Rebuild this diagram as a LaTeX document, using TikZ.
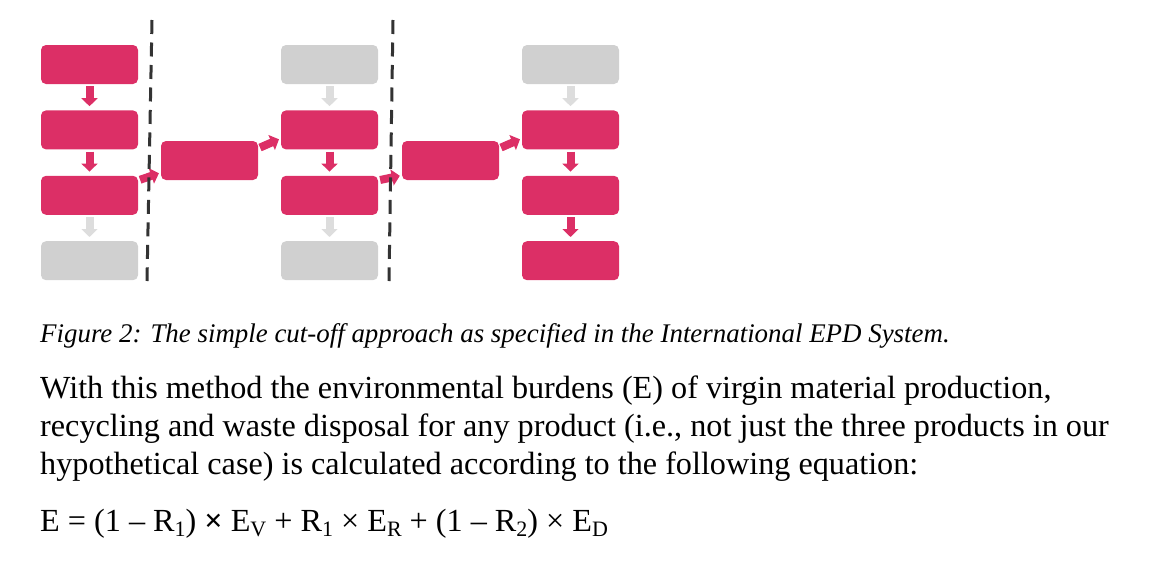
\documentclass[tikz,border=0pt]{standalone}
\usepackage{fontspec}
\setmainfont{Liberation Serif}
\usetikzlibrary{positioning,arrows.meta}

\definecolor{cerise}{RGB}{220,47,102}
\definecolor{boxgrey}{RGB}{208,208,208}
\definecolor{arrowgrey}{RGB}{221,221,221}
\definecolor{cutgrey}{RGB}{51,51,51}
\newcommand{\lowidx}[1]{\raisebox{-0.4ex}{\fontsize{22}{22}\selectfont #1}}

\begin{document}
\begin{tikzpicture}[x=1pt,y=1pt,
  stage/.style={rectangle,rounded corners=5pt,minimum width=97pt,minimum height=39pt,inner sep=0pt,fill=cerise},
  cutstage/.style={stage,fill=boxgrey},
  flow/.style={line width=8pt,cerise,-{Triangle[width=16pt,length=8pt]}},
  cutflow/.style={flow,arrowgrey},
  cutoff/.style={line width=3pt,cutgrey,dash pattern=on 14pt off 8.5pt},
  txt/.style={anchor=base west,inner sep=0pt}]

\useasboundingbox (0,0) rectangle (1167,-573);

%-------------------Product 1-----------------------%
\node[stage] (p1a) at (89.5,-64.5) {};
\node[stage,below=26pt of p1a] (p1b) {};
\node[stage,below=26pt of p1b] (p1c) {};
\node[cutstage,below=26pt of p1c] (p1d) {};
\draw[flow,shorten <=2pt,shorten >=4pt] (p1a) -- (p1b);
\draw[flow,shorten <=2pt,shorten >=4pt] (p1b) -- (p1c);
\draw[cutflow,shorten <=2pt,shorten >=4pt] (p1c) -- (p1d);
%----------------------------------------------------%

%-------------------Product 2-----------------------%
\node[cutstage] (p2a) at (329.5,-64.5) {};
\node[stage,below=26pt of p2a] (p2b) {};
\node[stage,below=26pt of p2b] (p2c) {};
\node[cutstage,below=26pt of p2c] (p2d) {};
\draw[cutflow,shorten <=2pt,shorten >=4pt] (p2a) -- (p2b);
\draw[flow,shorten <=2pt,shorten >=4pt] (p2b) -- (p2c);
\draw[cutflow,shorten <=2pt,shorten >=4pt] (p2c) -- (p2d);
%----------------------------------------------------%

%-------------------Product 3-----------------------%
\node[cutstage] (p3a) at (570.5,-64.5) {};
\node[stage,below=26pt of p3a] (p3b) {};
\node[stage,below=26pt of p3b] (p3c) {};
\node[stage,below=26pt of p3c] (p3d) {};
\draw[cutflow,shorten <=2pt,shorten >=4pt] (p3a) -- (p3b);
\draw[flow,shorten <=2pt,shorten >=4pt] (p3b) -- (p3c);
\draw[flow,shorten <=2pt,shorten >=4pt] (p3c) -- (p3d);
%----------------------------------------------------%

%-------------------Recycling-----------------------%
\node[stage] (rec1) at (209.5,-160.5) {};
\node[stage] (rec2) at (450.5,-160.5) {};
\draw[flow,shorten <=2pt,shorten >=2pt] (p1c.17) -- (rec1.194);
\draw[flow,shorten <=2pt,shorten >=2pt] (rec1.14) -- (p2b.190);
\draw[flow,shorten <=2pt,shorten >=2pt] (p2c.17) -- (rec2.197);
\draw[flow,shorten <=2pt,shorten >=2pt] (rec2.14) -- (p3b.190);
%----------------------------------------------------%

%-------------------Cut-off lines-------------------%
\coordinate (cut1top) at (152,-20);
\coordinate (cut1bot) at (147,-281);
\coordinate (cut2top) at (393,-20);
\coordinate (cut2bot) at (389,-281);
\draw[cutoff] (cut1top) -- (cut1bot);
\draw[cutoff] (cut2top) -- (cut2bot);
%----------------------------------------------------%

%-------------------Text----------------------------%
\node[txt,font=\fontsize{26.9}{27}\selectfont\itshape] (caption) at (40,-342) {Figure 2: The simple cut-off approach as specified in the International EPD System.};
\node[txt,font=\fontsize{32.2}{38}\selectfont] (body1) at (40,-398) {With this method the environmental burdens (E) of virgin material production,};
\node[txt,font=\fontsize{32.2}{38}\selectfont] (body2) at (40,-436) {recycling and waste disposal for any product (i.e., not just the three products in our};
\node[txt,font=\fontsize{32.2}{38}\selectfont] (body3) at (40,-474) {hypothetical case) is calculated according to the following equation:};
\node[txt,font=\fontsize{32.2}{38}\selectfont] (eqn) at (40,-531) {E = (1 – R\lowidx{1}) \textbf{×} E\lowidx{V} + R\lowidx{1} × E\lowidx{R} + (1 – R\lowidx{2}) × E\lowidx{D}};
%----------------------------------------------------%
\end{tikzpicture}
\end{document}
